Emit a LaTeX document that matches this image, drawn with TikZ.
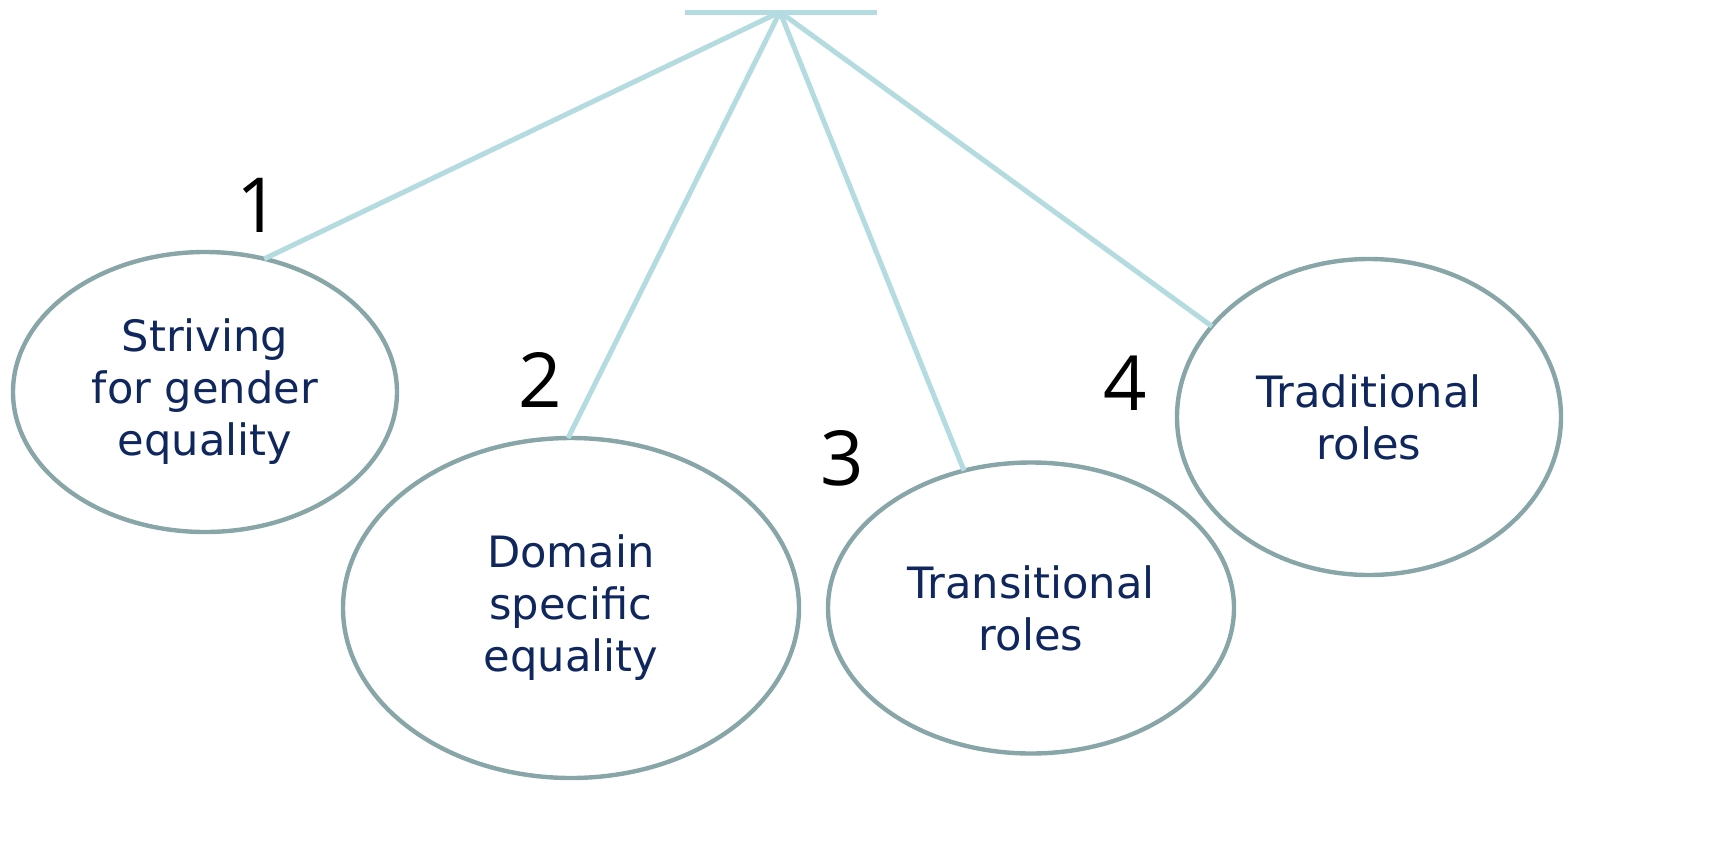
\documentclass[tikz,border=0pt]{standalone}
\usepackage{fontspec}
\setmainfont{DejaVu Sans}
\newfontfamily\numfont{Open Sans}
\usetikzlibrary{shapes.geometric}
\definecolor{linec}{HTML}{B4DBDF}
\definecolor{ellc}{HTML}{88A5A8}
\definecolor{txtc}{HTML}{10275E}
\tikzset{
  oval/.style={ellipse, draw=ellc, line width=2.2pt, inner sep=0pt, outer sep=0pt,
    text=txtc, align=center, font=\fontsize{21.6}{26}\selectfont},
  conn/.style={draw=linec, line width=2.5pt},
  numlab/.style={font=\numfont\fontsize{38}{40}\selectfont, text=black, inner sep=0pt}
}
\begin{document}
\begin{tikzpicture}[x=0.5pt,y=-0.5pt]
\useasboundingbox (0,0) rectangle (1731,863);
\coordinate (apex) at (780,12);
\coordinate (barL) at (685,12);
\coordinate (barR) at (877,12);
\node[oval, minimum width=192pt, minimum height=140pt] (e1) at (205,392) {Striving\\for gender\\equality};
\node[oval, minimum width=228pt, minimum height=170pt] (e2) at (571,608) {Domain\\specific\\equality};
\node[oval, minimum width=203pt, minimum height=145.5pt] (e3) at (1031,608) {Transitional\\roles};
\node[oval, minimum width=192pt, minimum height=158pt] (e4) at (1369,417) {Traditional\\roles};
\draw[conn] (barL) -- (barR);
\draw[conn] (apex) -- (e1.66);
\draw[conn] (apex) -- (e2.91);
\draw[conn] (apex) -- (e3.116);
\draw[conn] (apex) -- (e4.150);
\node[numlab] (n1) at (258,205) {1};
\node[numlab] (n2) at (540,380) {2};
\node[numlab] (n3) at (842,458) {3};
\node[numlab] (n4) at (1125,383) {4};
\end{tikzpicture}
\end{document}
